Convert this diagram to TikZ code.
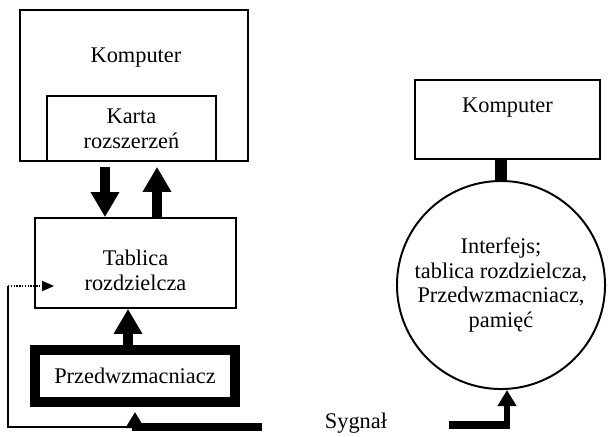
\documentclass[tikz,border=0pt]{standalone}
\usepackage{fontspec}
\setmainfont{Liberation Serif}
\usetikzlibrary{calc,arrows.meta}

\tikzset{
  box/.style={draw, line width=1.2pt, inner sep=0pt, align=center},
  heavybox/.style={draw, line width=0.25cm, inner sep=0pt, align=center},
  roundbox/.style={draw, circle, line width=1.4pt, inner sep=0pt, align=center},
  bigarrow/.style={line width=0.25cm, -{Triangle[length=0.625cm, width=0.675cm]}},
  smallarrow/.style={line width=0.15cm, -{Triangle[length=0.4cm, width=0.45cm]}},
  sigline/.style={line width=0.22cm},
  thinline/.style={line width=1.1pt},
  link/.style={line width=0.3cm},
}

\begin{document}
\begin{tikzpicture}[x=0.025cm, y=-0.025cm, font=\fontsize{15.9}{17.7}\selectfont]
		%%%%% START %%%%%
		\useasboundingbox (0,0) rectangle (610,436);
		
		% left side
		\node[box, minimum width=5.7cm, minimum height=3.775cm] (komp) at (134,85.5) {};
		\node[anchor=base] (komptxt) at (136,62) {Komputer};
		\node[box, minimum width=4.225cm, minimum height=1.625cm] (karta) at (131.5,128.5) {Karta\\rozszerzeń};
		
		\node[box, minimum width=5.025cm, minimum height=2.25cm] (tablica) at (135.5,263) {};
		\node[align=center] (tablicatxt) at (135.5,270) {Tablica\\rozdzielcza};
		
		\node[heavybox, minimum width=5cm, minimum height=1.3cm] (przed) at (135,376) {Przedwzmacniacz};
		
		\draw[bigarrow] ($(karta.south)+(-26.5,5)$) -- ($(tablica.north)+(-30.5,0)$);
		\draw[bigarrow] ($(tablica.north)+(21.5,0)$) -- ($(karta.south)+(25.5,5)$);
		\draw[bigarrow] ($(przed.north)+(-7,0)$) -- ($(tablica.south)+(-7.5,0)$);
		
		\coordinate (sigL) at (262,427);
		\coordinate (fb) at (8,286);
		\draw[sigline] (sigL) -- ($(sigL -| przed.south)+(-3,0)$);
		\draw[smallarrow] ($(sigL -| przed.south)+(0,4)$) -- ($(przed.south)+(0,5)$);
		\draw[thinline] (sigL -| przed.south) -| (fb);
		\draw[thinline, dash pattern=on 1pt off 1pt, -{Triangle[length=0.3cm, width=0.25cm]}] (fb) -- ($(tablica.west |- fb)+(20,0)$);
		
		\node[anchor=base] (sygnal) at (356,428) {Sygnał};
		
		% right side
		\node[box, minimum width=4.625cm, minimum height=1.975cm] (kompR) at (507.5,119.5) {};
		\node[anchor=base] (kompRtxt) at (507.5,112) {Komputer};
		\node[roundbox, minimum size=5.2cm] (uklad) at (501,285) {Interfejs;\\tablica rozdzielcza,\\Przedwzmacniacz,\\pamięć};
		\draw[link] (uklad.north |- kompR.south) -- (uklad.north);
		
		\coordinate (sigR) at (449,425);
		\coordinate (sigIn) at ($(uklad.south)+(6,0)$);
		\draw[sigline] (sigR) -- ($(sigR -| sigIn)+(3,0)$);
		\draw[smallarrow] ($(sigR -| sigIn)+(0,4)$) -- (sigIn);
		
		%%%%% END %%%%%
\end{tikzpicture}
\end{document}
